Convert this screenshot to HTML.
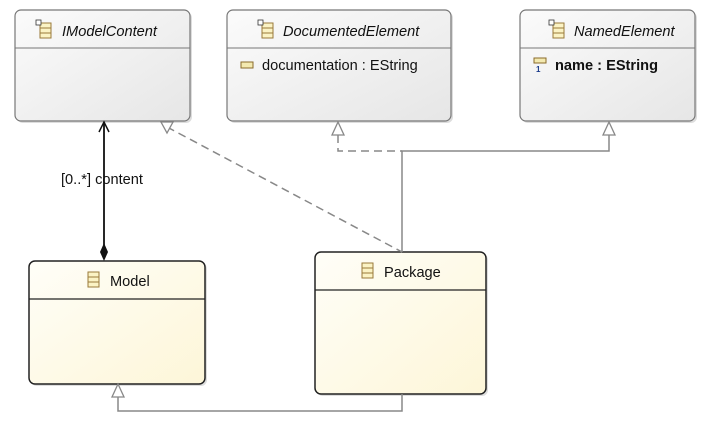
<!DOCTYPE html>
<html><head><style>body{margin:0;background:#fff}svg{display:block}text{font-family:"Liberation Sans",sans-serif}</style></head><body>
<svg width="717" height="428" viewBox="0 0 717 428" xmlns="http://www.w3.org/2000/svg">
<defs>
<linearGradient id="g" x1="0" y1="0" x2="1" y2="1"><stop offset="0" stop-color="#fbfbfb"/><stop offset="1" stop-color="#e6e6e6"/></linearGradient>
<linearGradient id="y" x1="0" y1="0" x2="1" y2="1"><stop offset="0" stop-color="#fffef8"/><stop offset="1" stop-color="#fdf6d8"/></linearGradient>
<g id="ic"><rect x="0" y="0" width="11" height="15" fill="#fbf3c4" stroke="#9a7a3a"/><line x1="0" y1="5" x2="11" y2="5" stroke="#9a7a3a"/><line x1="0" y1="10" x2="11" y2="10" stroke="#9a7a3a"/></g>
</defs>
<g fill="#ddd">
<rect x="17" y="12" width="175" height="111" rx="6"/>
<rect x="229" y="12" width="224" height="111" rx="6"/>
<rect x="522" y="12" width="175" height="111" rx="6"/>
<rect x="31" y="263" width="176" height="123" rx="6"/>
<rect x="317" y="254" width="171" height="142" rx="6"/>
</g>
<rect x="15" y="10" width="175" height="111" rx="6" fill="url(#g)" stroke="#777" stroke-width="1.2"/>
<line x1="15" y1="48" x2="190" y2="48" stroke="#777"/>
<rect x="227" y="10" width="224" height="111" rx="6" fill="url(#g)" stroke="#777" stroke-width="1.2"/>
<line x1="227" y1="48" x2="451" y2="48" stroke="#777"/>
<rect x="520" y="10" width="175" height="111" rx="6" fill="url(#g)" stroke="#777" stroke-width="1.2"/>
<line x1="520" y1="48" x2="695" y2="48" stroke="#777"/>
<rect x="29" y="261" width="176" height="123" rx="6" fill="url(#y)" stroke="#222" stroke-width="1.5"/>
<line x1="29" y1="299" x2="205" y2="299" stroke="#222" stroke-width="1.2"/>
<rect x="315" y="252" width="171" height="142" rx="6" fill="url(#y)" stroke="#222" stroke-width="1.5"/>
<line x1="315" y1="290" x2="486" y2="290" stroke="#222" stroke-width="1.2"/>
<use href="#ic" x="40" y="23"/><use href="#ic" x="262" y="23"/><use href="#ic" x="553" y="23"/>
<use href="#ic" x="88" y="272"/><use href="#ic" x="362" y="263"/>
<rect x="36" y="20" width="5" height="5" fill="#fff" stroke="#333" stroke-width="0.8"/>
<rect x="258" y="20" width="5" height="5" fill="#fff" stroke="#333" stroke-width="0.8"/>
<rect x="549" y="20" width="5" height="5" fill="#fff" stroke="#333" stroke-width="0.8"/>
<rect x="241" y="62" width="12" height="6" fill="#f3e9b0" stroke="#8a6a2a"/>
<rect x="534" y="58" width="12" height="5" fill="#f3e9b0" stroke="#8a6a2a"/>
<text x="536" y="72" font-size="8" fill="#1a3a8a" font-weight="bold">1</text>
<text x="62" y="36" font-size="14.6" font-style="italic" fill="#111">IModelContent</text>
<text x="283" y="36" font-size="14.6" font-style="italic" fill="#111">DocumentedElement</text>
<text x="574" y="36" font-size="14.6" font-style="italic" fill="#111">NamedElement</text>
<text x="262" y="70" font-size="14.6" fill="#111">documentation : EString</text>
<text x="555" y="70" font-size="14.6" font-weight="bold" fill="#111">name : EString</text>
<text x="110" y="286" font-size="14.6" fill="#111">Model</text>
<text x="384" y="277" font-size="14.6" fill="#111">Package</text>
<line x1="104" y1="122" x2="104" y2="245" stroke="#111" stroke-width="1.8"/>
<polyline points="99,132 104,122 109,132" fill="none" stroke="#111" stroke-width="1.5"/>
<polygon points="104,243 108,252 104,261 100,252" fill="#111"/>
<text x="61" y="184" font-size="14.6" fill="#111">[0..*] content</text>
<g stroke="#888" stroke-width="1.5" fill="none">
<line x1="167" y1="127" x2="402" y2="252" stroke-dasharray="8,5"/>
<polyline points="338,135 338,151 402,151" stroke-dasharray="8,5"/>
<polyline points="402,252 402,151 609,151 609,135"/>
<polyline points="402,394 402,411 118,411 118,397"/>
</g>
<g fill="#fff" stroke="#888" stroke-width="1.3">
<polygon points="161,122 173,122 167,133"/>
<polygon points="338,122 332,135 344,135"/>
<polygon points="609,122 603,135 615,135"/>
<polygon points="118,384 112,397 124,397"/>
</g>
</svg>
</body></html>
